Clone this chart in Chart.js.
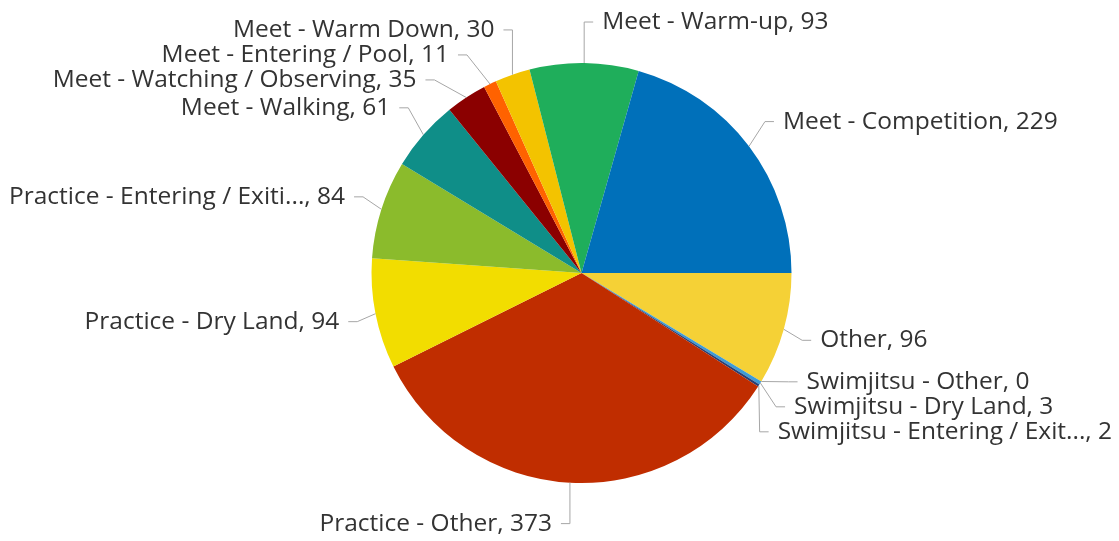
<!DOCTYPE html>
<html lang="en">
<head>
    <meta charset="UTF-8">
    <title>Activity Breakdown</title>
    <script src="https://cdn.jsdelivr.net/npm/chart.js"></script>
    <style>
        body {
            margin: 0;
            background-color: #fff;
        }
        #pieChart {
            display: block;
        }
    </style>
</head>
<body>
    <canvas id="pieChart" width="1119" height="541"></canvas>

    <script>
        // Data, clockwise from 3 o'clock
        const categories = [
            'Other',
            'Swimjitsu - Other',
            'Swimjitsu - Dry Land',
            'Swimjitsu - Entering / Exit...',
            'Practice - Other',
            'Practice - Dry Land',
            'Practice - Entering / Exiti...',
            'Meet - Walking',
            'Meet - Watching / Observing',
            'Meet - Entering / Pool',
            'Meet - Warm Down',
            'Meet - Warm-up',
            'Meet - Competition'
        ];
        const counts = [96, 0, 3, 2, 373, 94, 84, 61, 35, 11, 30, 93, 229];
        const sliceColors = [
            '#f5d136', '#5a7fc0', '#3d9bd6', '#2a3f73', '#c02d00', '#f2dd00', '#8bbb2c',
            '#0f8e88', '#8b0000', '#ff6200', '#f3c300', '#1fae5b', '#0070ba'
        ];

        // Outside labels with leader lines
        const outsideLabels = {
            id: 'outsideLabels',
            afterDatasetsDraw(chart) {
                const ctx = chart.ctx;
                const arcs = chart.getDatasetMeta(0).data;
                const lineH = 25;
                const half = 12;
                const dist = 35;
                const items = [];
                arcs.forEach((arc, i) => {
                    const p = arc.getProps(['x', 'y', 'startAngle', 'endAngle', 'outerRadius'], true);
                    const mid = (p.startAngle + p.endAngle) / 2;
                    const R = p.outerRadius + dist;
                    items.push({
                        text: categories[i] + ', ' + counts[i],
                        cx: p.x, cy: p.y, r: p.outerRadius, R: R,
                        ex: p.x + p.outerRadius * Math.cos(mid),
                        ey: p.y + p.outerRadius * Math.sin(mid),
                        want: p.y + (R + 6) * Math.sin(mid),
                        wantGroup: p.y + (R + 3) * Math.sin(mid) + 3.5,
                        right: Math.cos(mid) >= 0
                    });
                });

                // spread overlapping labels on each side
                [true, false].forEach(side => {
                    const list = items.filter(it => it.right === side).sort((a, b) => a.want - b.want);
                    const groups = [];
                    list.forEach(it => {
                        groups.push({ list: [it], sum: it.want });
                        while (groups.length > 1) {
                            const g = groups[groups.length - 1];
                            const pg = groups[groups.length - 2];
                            const gTop = g.sum / g.list.length - (g.list.length - 1) * lineH / 2;
                            const pBot = pg.sum / pg.list.length + (pg.list.length - 1) * lineH / 2;
                            if (gTop - pBot < lineH) {
                                pg.list = pg.list.concat(g.list);
                                pg.sum += g.sum;
                                groups.pop();
                            } else {
                                break;
                            }
                        }
                    });
                    groups.forEach(g => {
                        const n = g.list.length;
                        const c = n > 1
                            ? g.list.reduce((s, it) => s + it.wantGroup, 0) / n
                            : g.list[0].want;
                        g.list.forEach((it, k) => {
                            it.y = c + (k - (n - 1) / 2) * lineH;
                        });
                    });
                });

                ctx.save();
                ctx.font = '24.5px "Open Sans"';
                ctx.textBaseline = 'middle';
                items.forEach(it => {
                    const dir = it.right ? 1 : -1;
                    const y1 = it.y - half, y2 = it.y + half;
                    let t = Math.min(Math.abs(it.cy - y1), Math.abs(it.cy - y2));
                    if (y1 < it.cy && y2 > it.cy) t = 0;
                    let edge, bx;
                    if (t <= it.r) {
                        edge = it.cx + dir * Math.sqrt(it.R * it.R - t * t);
                        bx = edge - dir * 18;
                    } else {
                        bx = it.ex;
                        edge = it.ex + dir * 18;
                    }
                    const lx = edge - dir * 9;

                    ctx.strokeStyle = '#a6a6a6';
                    ctx.lineWidth = 1;
                    ctx.beginPath();
                    ctx.moveTo(it.ex, it.ey);
                    ctx.lineTo(bx, it.y);
                    ctx.lineTo(lx, it.y);
                    ctx.stroke();

                    ctx.fillStyle = '#333';
                    ctx.textAlign = it.right ? 'left' : 'right';
                    ctx.fillText(it.text, edge, it.y);
                });
                ctx.restore();
            }
        };

        const ctx = document.getElementById('pieChart').getContext('2d');
        const pieChart = new Chart(ctx, {
            type: 'pie',
            data: {
                labels: categories,
                datasets: [{
                    data: counts,
                    backgroundColor: sliceColors,
                    borderWidth: 0
                }]
            },
            options: {
                responsive: false,
                animation: false,
                rotation: 90,
                layout: {
                    padding: { top: 63, bottom: 58, left: 100, right: 56 }
                },
                plugins: {
                    legend: { display: false },
                    tooltip: { enabled: false }
                }
            },
            plugins: [outsideLabels]
        });
    </script>
</body>
</html>
